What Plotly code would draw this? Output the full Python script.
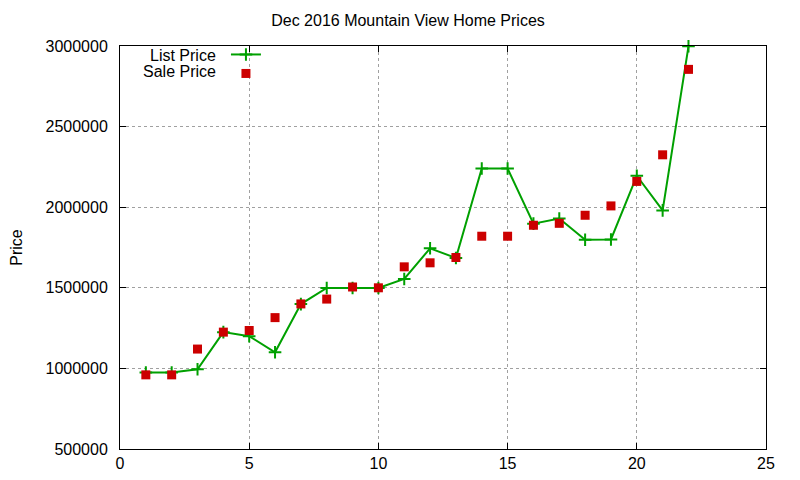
import plotly.graph_objects as go

# Dec 2016 Mountain View sales
sale_num = list(range(1, 23))
list_price = [975000, 975000, 995000, 1225000, 1200000, 1100000, 1399000, 1499000,
              1499000, 1499000, 1555000, 1745000, 1685000, 2240000, 2240000, 1898000,
              1930000, 1798000, 1800000, 2195000, 1980000, 2998000]
sale_price = [960000, 960000, 1120000, 1225000, 1235000, 1315000, 1400000, 1430000,
              1505000, 1500000, 1630000, 1655000, 1688000, 1820000, 1820000, 1888000,
              1900000, 1950000, 2008000, 2160000, 2325000, 2855000]

x_ticks = [0, 5, 10, 15, 20, 25]
y_ticks = [500000, 1000000, 1500000, 2000000, 2500000, 3000000]

green = "#00a000"
red = "#cc0000"
font = "Liberation Sans, Arial, sans-serif"

fig = go.Figure()
fig.add_trace(go.Scatter(
    x=sale_num, y=list_price, mode="lines+markers", name=" ",
    line=dict(color=green, width=2),
    marker=dict(symbol="cross-thin", size=9, line=dict(color=green, width=2)),
    hovertemplate="List Price %{y}<extra></extra>",
    cliponaxis=False,
))
fig.add_trace(go.Scatter(
    x=sale_num, y=sale_price, mode="markers", name=" ",
    marker=dict(symbol="square", size=9, color=red),
    hovertemplate="Sale Price %{y}<extra></extra>",
    cliponaxis=False,
))

axis_common = dict(
    showline=True, linecolor="black", linewidth=1, mirror="ticks",
    ticks="inside", ticklen=6, tickcolor="black",
    showgrid=True, gridcolor="#a0a0a0", griddash="dot", gridwidth=1,
    zeroline=False, automargin=False,
    tickfont=dict(family=font, size=16, color="black"),
)

fig.update_xaxes(range=[0, 25], tickvals=x_ticks, **axis_common)
fig.update_yaxes(range=[500000, 3000000], tickvals=y_ticks, tickformat="d",
                 ticklabelstandoff=8,
                 title=dict(text="Price", font=dict(family=font, size=16, color="black"), standoff=24),
                 **axis_common)

# legend text on the left of the samples, gnuplot style
for i, label in enumerate(["List Price", "Sale Price"]):
    fig.add_annotation(text=label, xref="paper", yref="paper", x=0.152, y=0.977 - i * 0.04,
                       xanchor="right", yanchor="middle", showarrow=False,
                       font=dict(family=font, size=16, color="black"))

# page body adds 8px offset, so margins are shifted to compensate
fig.update_layout(
    width=800, height=480,
    margin=dict(l=112, r=42, t=38, b=39),
    paper_bgcolor="white", plot_bgcolor="white",
    title=dict(text="Dec 2016 Mountain View Home Prices", x=0.5, xanchor="center",
               y=0.975, yanchor="middle", font=dict(family=font, size=16, color="black")),
    showlegend=True,
    legend=dict(x=0.164, y=1.015, xanchor="left", yanchor="top", bgcolor="rgba(0,0,0,0)",
                font=dict(family=font, size=10), tracegroupgap=0, itemwidth=30),
)

fig.write_html("out.html")
